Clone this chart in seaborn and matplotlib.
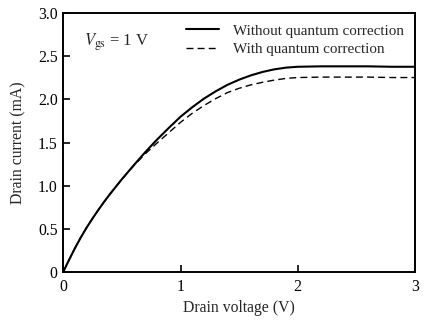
import matplotlib
matplotlib.use("Agg")
import matplotlib.pyplot as plt
import seaborn as sns
import pandas as pd

# Drain voltage (V) and drain current (mA) for the two simulations
drain_voltage = [0.0, 0.05, 0.1, 0.15, 0.2, 0.25, 0.3, 0.35, 0.4, 0.5, 0.6, 0.7, 0.8,
                 0.9, 1.0, 1.1, 1.2, 1.3, 1.4, 1.5, 1.6, 1.7, 1.8, 1.9, 2.0,
                 2.2, 2.4, 2.6, 2.8, 3.0]
current_classical = [0.0, 0.14, 0.275, 0.40, 0.515, 0.62, 0.72, 0.815, 0.905, 1.075,
                     1.235, 1.39, 1.535, 1.67, 1.80, 1.91, 2.01, 2.095, 2.17, 2.23,
                     2.28, 2.32, 2.35, 2.37, 2.38, 2.385, 2.385, 2.385, 2.38, 2.38]
current_quantum = [0.0, 0.14, 0.275, 0.40, 0.515, 0.62, 0.72, 0.815, 0.905, 1.075,
                   1.23, 1.37, 1.495, 1.615, 1.735, 1.84, 1.93, 2.01, 2.08, 2.13,
                   2.17, 2.20, 2.225, 2.245, 2.255, 2.26, 2.26, 2.26, 2.255, 2.255]

label_classical = "Without quantum correction"
label_quantum = "With quantum correction"

x_ticks = [0, 1, 2, 3]
x_tick_labels = ["0", "1", "2", "3"]
y_ticks = [0, 0.5, 1.0, 1.5, 2.0, 2.5, 3.0]
y_tick_labels = ["0", "0.5", "1.0", "1.5", "2.0", "2.5", "3.0"]

sns.set_style("ticks")
plt.rcParams["font.family"] = ["Liberation Serif", "DejaVu Serif"]
plt.rcParams["mathtext.fontset"] = "stix"
plt.rcParams["font.size"] = 11

df_classical = pd.DataFrame({"V": drain_voltage, "I": current_classical})
df_quantum = pd.DataFrame({"V": drain_voltage, "I": current_quantum})

fig = plt.figure(figsize=(4.41, 3.22), dpi=100)
ax = fig.add_axes([0.1435, 0.156, 0.7975, 0.8025])

sns.lineplot(data=df_classical, x="V", y="I", ax=ax, color="black",
             linewidth=1.5, label=label_classical)
sns.lineplot(data=df_quantum, x="V", y="I", ax=ax, color="black",
             linewidth=1.0, linestyle=(0, (5, 3)), label=label_quantum)

ax.set_xlim(0, 3)
ax.set_ylim(0, 3)
ax.set_xticks(x_ticks)
ax.set_xticklabels(x_tick_labels)
ax.set_yticks(y_ticks)
ax.set_yticklabels(y_tick_labels)
ax.tick_params(direction="in", length=5, width=1.2, labelsize=11.3, pad=4,
               colors="black")
ax.tick_params(axis="x", pad=5)
for side in ["top", "right", "left", "bottom"]:
    ax.spines[side].set_visible(True)
    ax.spines[side].set_linewidth(1.4)
    ax.spines[side].set_color("black")

ax.set_xlabel("Drain voltage (V)", fontsize=11.3, labelpad=4)
ax.set_ylabel("Drain current (mA)", fontsize=11.3, labelpad=8)

ax.text(0.06, 0.89, r"$V_{\mathrm{gs}}$ = 1 V", transform=ax.transAxes,
        fontsize=12, va="center", ha="left")

leg = ax.legend(loc="upper right", frameon=False, fontsize=10.9,
                handlelength=2.2, handletextpad=0.95, labelspacing=0.35,
                borderaxespad=0.3, bbox_to_anchor=(1.0, 1.0))

fig.savefig("out.png", dpi=100)
